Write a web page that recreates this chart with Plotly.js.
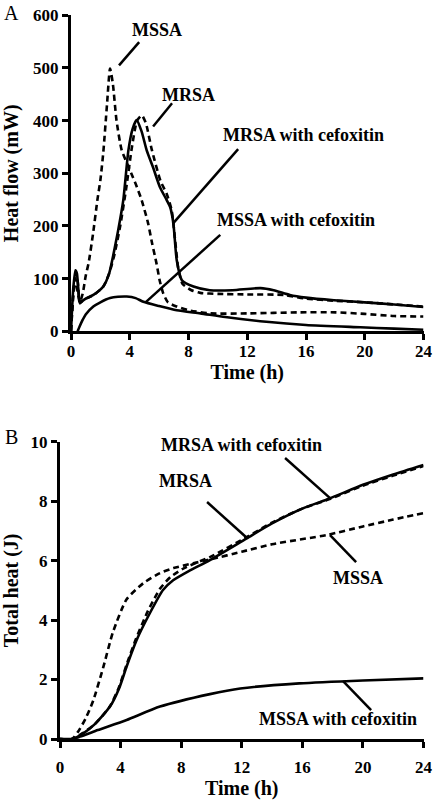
<!DOCTYPE html>
<html>
<head>
<meta charset="utf-8">
<script src="https://cdn.plot.ly/plotly-3.0.1.min.js"></script>
<style>html,body{margin:0;padding:0;background:#fff;}#chart{width:433px;height:800px;}</style>
</head>
<body>
<div id="chart"></div>
<script>
// ---------- Panel A: heat flow (mW) ----------
const tMSSA_A = [0, 0.15, 0.3, 0.45, 0.6, 0.8, 1.0, 1.2, 1.5, 1.8, 2.0, 2.2, 2.45, 2.66, 2.85, 3.1, 3.45, 3.8, 4.1, 4.4, 4.8, 5.25, 5.5, 5.82, 6.05, 6.28, 6.6, 7.2, 8, 9.5, 12, 15.6, 18, 20, 22, 24];
const hfMSSA     = [0, 65, 100, 75, 55, 72, 105, 130, 185, 250, 287, 340, 430, 499, 470, 400, 344, 320, 300, 280, 250, 205, 170, 129, 95, 72, 55, 47, 40, 34, 34, 36, 36, 33, 29, 28];

const tMRSA_A = [0, 0.15, 0.3, 0.45, 0.6, 0.8, 1.0, 1.5, 2.2, 2.6, 2.95, 3.35, 3.75, 4.15, 4.5, 4.82, 5.1, 5.5, 6.1, 6.5, 6.85, 7.1, 7.3, 7.6, 8.2, 8.8, 10, 12, 14.5, 16, 18, 20, 22, 24];
const hfMRSA     = [0, 70, 105, 95, 55, 58, 62, 68, 85, 110, 145, 200, 270, 350, 400, 410, 395, 345, 285, 262, 230, 170, 120, 90, 78, 73, 71, 70, 69, 62, 58, 55, 51, 47];

const tMRSAcef_A = [0, 0.15, 0.3, 0.4, 0.5, 0.61, 0.8, 1.0, 1.52, 2.2, 2.6, 2.86, 3.2, 3.56, 3.91, 4.2, 4.47, 4.8, 5.15, 5.6, 6.05, 6.5, 6.75, 6.97, 7.2, 7.55, 8.34, 9.45, 11, 12.9, 13.8, 14.9, 16, 17.9, 20, 22, 24];
const hfMRSAcef     = [0, 80, 116, 110, 80, 53, 58, 62, 69, 85, 110, 142, 190, 249, 344, 385, 401, 380, 344, 310, 274, 250, 236, 205, 135, 97, 85, 78, 78, 82, 78, 69, 64, 59, 55, 51, 46];

const tMSSAcef_A = [0.45, 0.6, 0.8, 1.0, 1.52, 2.0, 2.66, 3.2, 3.8, 4.4, 4.93, 6, 7.2, 8.8, 10.5, 13.3, 16, 19.7, 22, 24];
const hfMSSAcef     = [0, 10, 22, 32, 47, 55, 63, 65.5, 66, 63, 56, 48, 40, 34, 27, 18, 12, 7.6, 5, 3];

// ---------- Panel B: total heat (J) ----------
const tMSSA_B = [0, 0.8, 1.2, 1.7, 2.2, 2.85, 3.5, 4.4, 5.5, 6.6, 7.5, 8.8, 10, 12, 14, 17.6, 20, 22, 24];
const thMSSA     = [0, 0, 0.25, 0.7, 1.3, 2.4, 3.6, 4.7, 5.24, 5.58, 5.75, 5.91, 6.05, 6.3, 6.55, 6.86, 7.15, 7.38, 7.6];

const tMRSA_B = [0, 0.8, 1.5, 2.3, 3.3, 3.9, 4.4, 5.0, 5.8, 6.6, 7.3, 8.2, 9.9, 12.3, 14, 16, 17.8, 20, 22, 24];
const thMRSA     = [0, 0, 0.2, 0.5, 1.1, 1.75, 2.5, 3.35, 4.3, 5.05, 5.45, 5.75, 6.12, 6.78, 7.28, 7.75, 8.07, 8.52, 8.86, 9.18];

const tMRSAcef_B = [0, 0.8, 1.54, 2.3, 3.3, 3.9, 4.4, 5.06, 5.93, 6.8, 7.47, 8.5, 9.9, 12.3, 14, 16, 17.8, 20, 22, 24];
const thMRSAcef     = [0, 0, 0.19, 0.5, 1.09, 1.7, 2.44, 3.33, 4.23, 5.01, 5.34, 5.65, 6.02, 6.74, 7.25, 7.75, 8.09, 8.55, 8.9, 9.22];

const tMSSAcef_B = [0, 0.8, 1.32, 2.5, 4.4, 6.6, 9.9, 11.9, 15.8, 20, 24];
const thMSSAcef     = [0, 0, 0.08, 0.3, 0.64, 1.09, 1.51, 1.70, 1.87, 1.97, 2.04];

// tick labels
const xTicks = [0, 4, 8, 12, 16, 20, 24];
const yTicksA = [0, 100, 200, 300, 400, 500, 600];
const yTicksB = [0, 2, 4, 6, 8, 10];
const boldText = arr => arr.map(v => '<b>' + v + '</b>');

const FONT = 'Liberation Serif, Times New Roman, serif';
const solid = {color: '#000', width: 2.6, shape: 'spline', smoothing: 0.6};
const dashed = {color: '#000', width: 2.6, dash: '6px,4px', shape: 'spline', smoothing: 0.6};

const traces = [
  {x: tMSSA_A, y: hfMSSA, name: 'MSSA', mode: 'lines', line: dashed, xaxis: 'x', yaxis: 'y'},
  {x: tMRSA_A, y: hfMRSA, name: 'MRSA', mode: 'lines', line: dashed, xaxis: 'x', yaxis: 'y'},
  {x: tMRSAcef_A, y: hfMRSAcef, name: 'MRSA with cefoxitin', mode: 'lines', line: solid, xaxis: 'x', yaxis: 'y'},
  {x: tMSSAcef_A, y: hfMSSAcef, name: 'MSSA with cefoxitin', mode: 'lines', line: solid, xaxis: 'x', yaxis: 'y'},
  {x: tMSSA_B, y: thMSSA, name: 'MSSA', mode: 'lines', line: dashed, xaxis: 'x2', yaxis: 'y2'},
  {x: tMRSA_B, y: thMRSA, name: 'MRSA', mode: 'lines', line: dashed, xaxis: 'x2', yaxis: 'y2'},
  {x: tMRSAcef_B, y: thMRSAcef, name: 'MRSA with cefoxitin', mode: 'lines', line: solid, xaxis: 'x2', yaxis: 'y2'},
  {x: tMSSAcef_B, y: thMSSAcef, name: 'MSSA with cefoxitin', mode: 'lines', line: solid, xaxis: 'x2', yaxis: 'y2'}
];

const W = 433, H = 800;
const axBase = {
  showline: true, linewidth: 3, linecolor: '#000',
  ticks: 'outside', ticklen: 6, tickwidth: 3, tickcolor: '#000',
  showgrid: false, zeroline: false, automargin: false, fixedrange: true,
  tickfont: {family: FONT, size: 17, color: '#000', weight: 'bold'}
};
function ax(extra) { return Object.assign({}, axBase, extra); }

const titleFont = {family: FONT, size: 20, color: '#000', weight: 'bold'};

const layout = {
  width: W, height: H,
  margin: {l: 0, r: 0, t: 0, b: 0},
  paper_bgcolor: '#fff', plot_bgcolor: '#fff',
  showlegend: false,
  font: {family: FONT, color: '#000'},
  xaxis: ax({domain: [71 / W, 423.5 / W], range: [0, 24], tickvals: xTicks, ticktext: boldText(xTicks),
    anchor: 'y', ticklabelstandoff: -4,
    title: {text: '<b>Time (h)</b>', font: titleFont, standoff: 2}}),
  yaxis: ax({domain: [1 - 331.3 / H, 1 - 15.3 / H], range: [0, 600], tickvals: yTicksA, ticktext: boldText(yTicksA),
    anchor: 'x',
    title: {text: '<b>Heat flow (mW)</b>', font: titleFont, standoff: 11}}),
  xaxis2: ax({domain: [60 / W, 423.5 / W], range: [0, 24], tickvals: xTicks, ticktext: boldText(xTicks),
    anchor: 'y2', ticklabelstandoff: 5,
    title: {text: '<b>Time (h)</b>', font: titleFont, standoff: 8}}),
  yaxis2: ax({domain: [1 - 739 / H, 1 - 441.7 / H], range: [0, 10], tickvals: yTicksB, ticktext: boldText(yTicksB),
    anchor: 'x2',
    title: {text: '<b>Total heat (J)</b>', font: titleFont, standoff: 20}}),
  annotations: [],
  shapes: []
};

const lblFont = {family: FONT, size: 18, color: '#000', weight: 'bold'};
function label(text, x, y, xr, yr) {
  layout.annotations.push({text: '<b>' + text + '</b>', x: x, y: y, xref: xr, yref: yr, showarrow: false,
    font: lblFont, xanchor: 'center', yanchor: 'middle'});
}
function leader(x0, y0, x1, y1, xr, yr) {
  layout.shapes.push({type: 'line', xref: xr, yref: yr, x0: x0, y0: y0, x1: x1, y1: y1,
    line: {color: '#000', width: 2.5}});
}
// Panel A labels
label('MSSA', 5.86, 573, 'x', 'y');            leader(4.64, 549, 3.27, 505, 'x', 'y');
label('MRSA', 7.98, 448, 'x', 'y');            leader(6.88, 433, 5.59, 389, 'x', 'y');
label('MRSA with cefoxitin', 15.8, 372, 'x', 'y'); leader(11.38, 346, 6.95, 205, 'x', 'y');
label('MSSA with cefoxitin', 15.3, 211, 'x', 'y'); leader(10.16, 183, 5.11, 56, 'x', 'y');
// Panel B labels
label('MRSA with cefoxitin', 11.96, 9.88, 'x2', 'y2'); leader(14.86, 9.45, 17.83, 8.10, 'x2', 'y2');
label('MRSA', 8.26, 8.67, 'x2', 'y2');                leader(9.71, 7.97, 12.35, 6.76, 'x2', 'y2');
label('MSSA', 19.68, 5.41, 'x2', 'y2');               leader(17.83, 6.86, 19.55, 5.95, 'x2', 'y2');
label('MSSA with cefoxitin', 18.36, 0.67, 'x2', 'y2'); leader(20.54, 0.97, 18.69, 1.95, 'x2', 'y2');
// Panel letters
layout.annotations.push({text: 'A', x: 11 / W, y: 1 - 13 / H, xref: 'paper', yref: 'paper', showarrow: false,
  font: {family: FONT, size: 20, color: '#000'}, xanchor: 'center', yanchor: 'middle'});
layout.annotations.push({text: 'B', x: 11 / W, y: 1 - 437 / H, xref: 'paper', yref: 'paper', showarrow: false,
  font: {family: FONT, size: 20, color: '#000'}, xanchor: 'center', yanchor: 'middle'});

Plotly.newPlot('chart', traces, layout, {displayModeBar: false, staticPlot: true});
</script>
</body>
</html>
